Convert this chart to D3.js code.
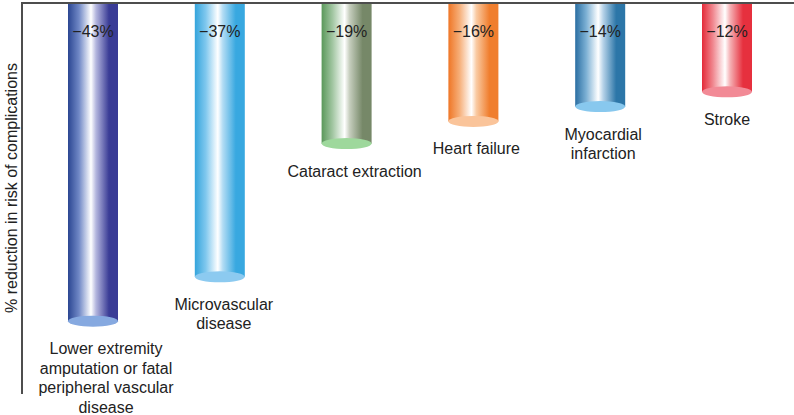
<!DOCTYPE html>
<html>
<head>
<meta charset="utf-8">
<script src="https://cdn.jsdelivr.net/npm/d3@7"></script>
<style>
  html, body { margin: 0; padding: 0; background: #fff; }
  svg { display: block; font-family: "Liberation Sans", Arial, sans-serif; }
</style>
</head>
<body>
<svg id="chart" width="794" height="415"></svg>
<script>
// data
const categories = ['lower', 'micro', 'cataract', 'heart', 'mi', 'stroke'];
const categoryLines = [
  ['Lower extremity', 'amputation or fatal', 'peripheral vascular', 'disease'],
  ['Microvascular', 'disease'],
  ['Cataract extraction'],
  ['Heart failure'],
  ['Myocardial', 'infarction'],
  ['Stroke']
];
const reduction = [-43, -37, -19, -16, -14, -12];
const yTitle = '% reduction in risk of complications';

// cylinder colours: left edge, left mid, right mid, right edge, bottom cap
const palette = [
  ['#2b4692', '#7088c6', '#b4b6de', '#3a3c96', '#86a9e0'],
  ['#34a4dc', '#80c8ee', '#b2dcf4', '#38a8e0', '#8ccaf0'],
  ['#5a985a', '#a2c6a2', '#c6cebe', '#768868', '#9ed89c'],
  ['#ef7626', '#f6ae78', '#f9caa2', '#f07e2e', '#fac49a'],
  ['#2a6ea2', '#7cb0d4', '#b6d2e8', '#2c76a8', '#88c8ee'],
  ['#e42a38', '#f08890', '#f5b2b6', '#e6303e', '#f28a96']
];
// small sideways nudges of category labels, as in the original artwork
const labelNudge = [13, 4, 8, 3, 3, 0];

const svg = d3.select('#chart');
const width = 794, height = 415;
const axisX = 22;
const barW = 50;
const fontSize = '16px';

const x = d3.scalePoint().domain(categories).range([93, 727]);
const y = d3.scaleLinear().domain([0, -45]).range([3, 336]);

// gradients for the cylinders
const defs = svg.append('defs');
categories.forEach((c, i) => {
  const col = palette[i];
  const g = defs.append('linearGradient')
    .attr('id', 'grad-' + c)
    .attr('x1', '0%').attr('x2', '100%')
    .attr('y1', '0%').attr('y2', '0%');
  g.append('stop').attr('offset', '0%').attr('stop-color', col[0]);
  g.append('stop').attr('offset', '22%').attr('stop-color', col[1]);
  g.append('stop').attr('offset', '46%').attr('stop-color', '#ffffff');
  g.append('stop').attr('offset', '56%').attr('stop-color', col[2]);
  g.append('stop').attr('offset', '82%').attr('stop-color', col[3]);
  g.append('stop').attr('offset', '100%').attr('stop-color', col[3]);
});

const bars = svg.append('g').selectAll('g')
  .data(categories)
  .join('g');

bars.append('rect')
  .attr('x', d => x(d) - barW / 2)
  .attr('y', y(0))
  .attr('width', barW)
  .attr('height', (d, i) => y(reduction[i]) - y(0))
  .attr('fill', d => 'url(#grad-' + d + ')');

// bottom cap of each cylinder
bars.append('ellipse')
  .attr('cx', d => x(d))
  .attr('cy', (d, i) => y(reduction[i]))
  .attr('rx', barW / 2)
  .attr('ry', 5.5)
  .attr('fill', (d, i) => palette[i][4]);

// value labels
bars.append('text')
  .attr('x', d => x(d))
  .attr('y', 37)
  .attr('text-anchor', 'middle')
  .attr('font-size', fontSize)
  .attr('fill', '#222')
  .text((d, i) => '\u2212' + Math.abs(reduction[i]) + '%');

// category labels below each bar
const lineH = 19.5;
bars.append('text')
  .attr('text-anchor', 'middle')
  .attr('font-size', fontSize)
  .attr('fill', '#222')
  .each(function (d, i) {
    const t = d3.select(this);
    categoryLines[i].forEach((line, k) => {
      t.append('tspan')
        .attr('x', x(d) + labelNudge[i])
        .attr('y', y(reduction[i]) + 33 + k * lineH)
        .text(line);
    });
  });

// axis lines
svg.append('line')
  .attr('x1', axisX).attr('x2', width)
  .attr('y1', y(0)).attr('y2', y(0))
  .attr('stroke', '#4d4d4d').attr('stroke-width', 2);

svg.append('line')
  .attr('x1', axisX).attr('x2', axisX)
  .attr('y1', y(0) - 1).attr('y2', 394)
  .attr('stroke', '#4d4d4d').attr('stroke-width', 2);

svg.append('text')
  .attr('transform', 'translate(17,188) rotate(-90)')
  .attr('text-anchor', 'middle')
  .attr('font-size', fontSize)
  .attr('fill', '#222')
  .text(yTitle);
</script>
</body>
</html>
